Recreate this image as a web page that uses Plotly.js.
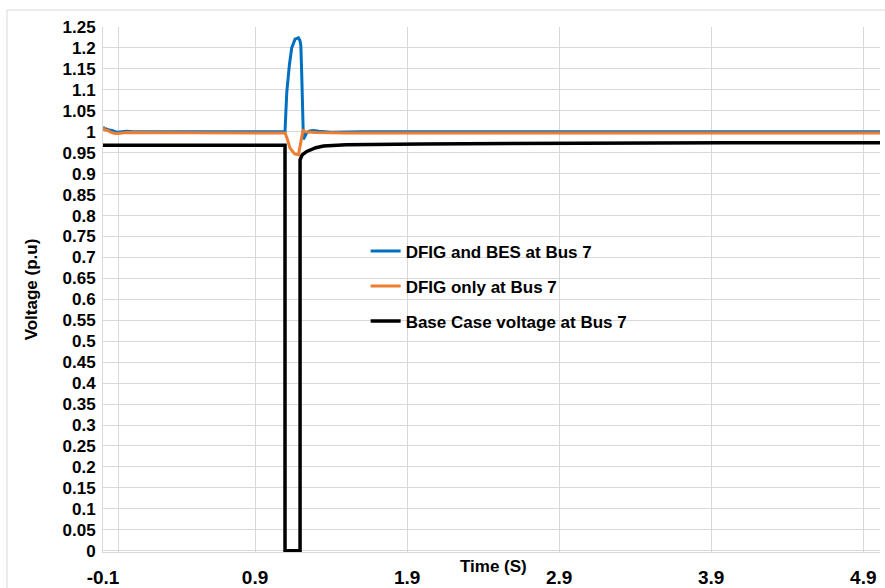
<!DOCTYPE html>
<html>
<head>
<meta charset="utf-8">
<script src="https://cdn.plot.ly/plotly-3.0.1.min.js"></script>
<style>html,body{margin:0;padding:0;background:#fff;}#chart{width:885px;height:588px;}</style>
</head>
<body>
<div id="chart"></div>
<script>
// ---- Data ----
var tBes = [-0.1, -0.09, -0.08, -0.06, -0.04, -0.02, 0.0, 0.05, 0.1, 0.3, 0.6, 0.9, 1.097, 1.103, 1.109, 1.126, 1.141, 1.163, 1.185, 1.195, 1.201, 1.207, 1.211, 1.218, 1.23, 1.24, 1.26, 1.28, 1.32, 1.4, 1.6, 2.0, 3.0, 4.0, 5.01];
var vBes = [1.012, 1.006, 1.007, 1.004, 1.003, 1.0, 0.999, 1.001, 1.0, 1.0, 1.0, 1.0, 1.0, 1.05, 1.096, 1.16, 1.2, 1.221, 1.224, 1.218, 1.207, 1.136, 1.057, 0.982, 0.99, 0.998, 1.002, 1.003, 1.001, 0.999, 1.0, 1.0, 1.0, 1.0, 1.0];

var tDfig = [-0.1, -0.09, -0.07, -0.05, -0.02, 0.0, 0.05, 0.1, 0.3, 0.6, 0.9, 1.097, 1.11, 1.13, 1.16, 1.185, 1.196, 1.207, 1.215, 1.23, 1.26, 1.3, 1.5, 2.0, 3.0, 4.0, 5.01];
var vDfig = [1.01, 1.005, 1.003, 0.999, 0.996, 0.996, 0.998, 0.998, 0.998, 0.998, 0.998, 0.997, 0.985, 0.961, 0.947, 0.945, 0.965, 0.993, 1.003, 1.0, 0.999, 0.998, 0.997, 0.997, 0.997, 0.997, 0.997];

var tBase = [-0.1, 0.5, 1.097, 1.097, 1.196, 1.196, 1.21, 1.24, 1.3, 1.35, 1.5, 2.0, 3.0, 4.0, 5.01];
var vBase = [0.968, 0.968, 0.968, 0.0, 0.0, 0.933, 0.945, 0.953, 0.962, 0.966, 0.969, 0.971, 0.973, 0.974, 0.974];

var seriesNames = ["DFIG and BES at Bus 7", "DFIG only at Bus 7", "Base Case voltage at Bus 7"];
var xTickVals = [-0.1, 0.9, 1.9, 2.9, 3.9, 4.9];
var xTickText = ["-0.1", "0.9", "1.9", "2.9", "3.9", "4.9"];

var FONT = "Liberation Sans, Arial, sans-serif";

var traces = [
  {x: tBes, y: vBes, name: seriesNames[0], mode: "lines", legendgroup: "a",
   line: {color: "#0070C0", width: 3}},
  {x: tDfig, y: vDfig, name: seriesNames[1], mode: "lines", legendgroup: "b",
   line: {color: "#ED7D31", width: 3}},
  {x: tBase, y: vBase, name: seriesNames[2], mode: "lines", legendgroup: "c",
   line: {color: "#000000", width: 3.5}}
];

var layout = {
  width: 885, height: 588,
  margin: {l: 103, r: 5, t: 27, b: 36},
  paper_bgcolor: "#ffffff", plot_bgcolor: "#ffffff",
  font: {family: FONT, color: "#000000"},
  showlegend: true,
  legend: {x: 0.338, y: 0.607, xanchor: "left", yanchor: "top",
           bgcolor: "rgba(0,0,0,0)", traceorder: "grouped", tracegroupgap: 10,
           font: {family: FONT, size: 17, color: "#000", weight: "bold"}},
  xaxis: {range: [-0.1, 5.01], tickmode: "array", tickvals: xTickVals, ticktext: xTickText,
          showgrid: true, gridcolor: "#d9d9d9", gridwidth: 1, zeroline: false,
          showline: true, linecolor: "#d9d9d9", linewidth: 1, ticks: "",
          ticklabelstandoff: 8,
          tickfont: {family: FONT, size: 19, color: "#000", weight: "bold"},
          minor: {tickmode: "array", tickvals: [0], showgrid: true, gridcolor: "#d9d9d9", gridwidth: 1}},
  yaxis: {range: [-0.003, 1.25], tick0: 0, dtick: 0.05,
          showgrid: true, gridcolor: "#d9d9d9", gridwidth: 1, zeroline: false,
          showline: true, linecolor: "#d9d9d9", linewidth: 1, ticks: "",
          ticklabelstandoff: 3,
          tickfont: {family: FONT, size: 17, color: "#000", weight: "bold"},
          title: {text: "Voltage (p.u)", standoff: 20,
                  font: {family: FONT, size: 17, color: "#000", weight: "bold"}}},
  annotations: [
    {text: "Time (S)", xref: "paper", yref: "paper", x: 0.502, y: -0.027,
     xanchor: "center", yanchor: "middle", showarrow: false,
     font: {family: FONT, size: 17, color: "#000", weight: "bold"}}
  ],
  shapes: [
    {type: "line", xref: "paper", yref: "paper", x0: -0.1236, x1: -0.1236, y0: -0.1, y1: 1.0324,
     line: {color: "#d9d9d9", width: 1}},
    {type: "line", xref: "paper", yref: "paper", x0: -0.1236, x1: 1.01, y0: 1.0324, y1: 1.0324,
     line: {color: "#d9d9d9", width: 1}}
  ]
};

Plotly.newPlot("chart", traces, layout, {displayModeBar: false, staticPlot: true});
</script>
</body>
</html>
